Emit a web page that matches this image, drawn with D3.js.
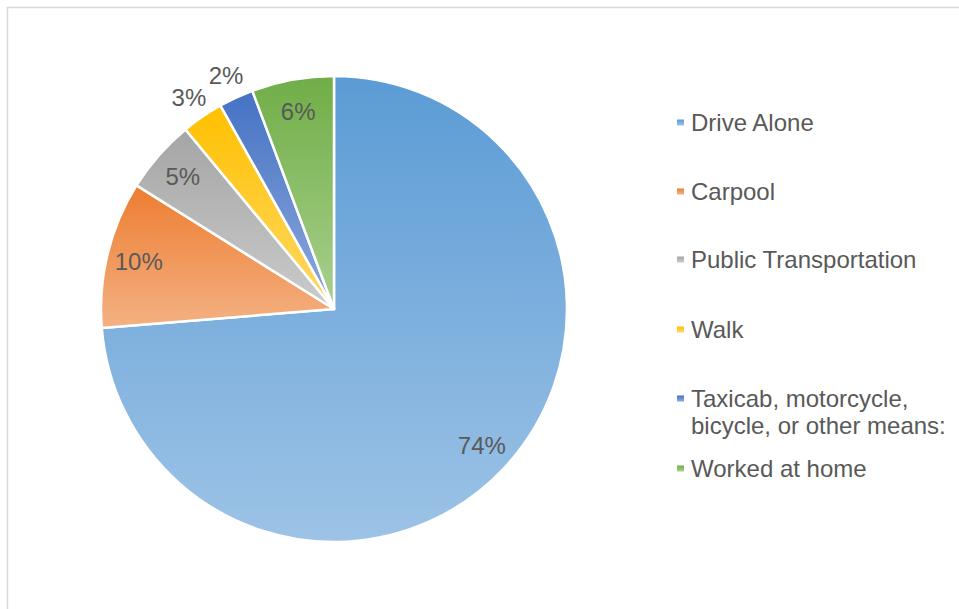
<!DOCTYPE html>
<html><head><meta charset="utf-8">
<script src="https://cdn.jsdelivr.net/npm/d3@7"></script>
<style>html,body{margin:0;padding:0;background:#fff;overflow:hidden}</style>
</head><body>
<svg id="c" width="959" height="609"></svg>
<script>
const categories = ["Drive Alone","Carpool","Public Transportation","Walk","Taxicab, motorcycle, bicycle, or other means:","Worked at home"];
const values = [73.7, 10.2, 5.1, 2.9, 2.4, 5.7];
const legendLines = [["Drive Alone"],["Carpool"],["Public Transportation"],["Walk"],["Taxicab, motorcycle,","bicycle, or other means:"],["Worked at home"]];
const topColors = ["#5b9bd5","#ed7d31","#a5a5a5","#ffc000","#4472c4","#70ad47"];
const bottomColors = ["#9dc3e6","#f4b183","#cbcbcb","#ffd966","#8faadc","#a9d18e"];
const outsideLabel = [false,false,false,true,true,false];

const svg = d3.select("#c");
svg.append("rect").attr("x",7.5).attr("y",7.5).attr("width",1000).attr("height",700)
  .attr("fill","#fff").attr("stroke","#d9d9d9").attr("stroke-width",1.5);

const defs = svg.append("defs");
categories.forEach((c,i)=>{
  const g = defs.append("linearGradient").attr("id","g"+i).attr("x1",0).attr("y1",0).attr("x2",0).attr("y2",1);
  g.append("stop").attr("offset","0%").attr("stop-color",topColors[i]);
  g.append("stop").attr("offset","100%").attr("stop-color",bottomColors[i]);
});

const cx = 334, cy = 309, R = 233;
const pie = d3.pie().sort(null).value(d=>d)(values);
const arc = d3.arc().innerRadius(0).outerRadius(R);
const g = svg.append("g").attr("transform",`translate(${cx},${cy})`);
g.selectAll("path").data(pie).join("path")
  .attr("d",arc).attr("fill",(d,i)=>`url(#g${i})`)
  .attr("stroke","#fff").attr("stroke-width",2.5).attr("stroke-linejoin","round");

const inArc = d3.arc().innerRadius(201).outerRadius(201);
const outArc = d3.arc().innerRadius(257).outerRadius(257);
g.selectAll("text.lbl").data(pie).join("text").attr("class","lbl")
  .attr("transform",(d,i)=>{const p=(outsideLabel[i]?outArc:inArc).centroid(d);return `translate(${p[0]},${p[1]})`;})
  .attr("text-anchor","middle").attr("dy","0.36em")
  .attr("font-family","Liberation Sans, Arial, sans-serif").attr("font-size",24)
  .attr("fill","#595959")
  .text(d=>Math.round(d.data)+"%");

const legY = [131, 200, 268, 338, 407, 477];
const leg = svg.append("g");
categories.forEach((c,i)=>{
  leg.append("rect").attr("x",677).attr("y",legY[i]-11.5).attr("width",7).attr("height",6)
    .attr("fill",`url(#g${i})`);
  const t = leg.append("text").attr("x",691).attr("y",legY[i])
    .attr("font-family","Liberation Sans, Arial, sans-serif").attr("font-size",24).attr("fill","#595959");
  legendLines[i].forEach((l,j)=>{
    t.append("tspan").attr("x",691).attr("dy", j===0?0:26.5).text(l);
  });
});
</script>
</body></html>
